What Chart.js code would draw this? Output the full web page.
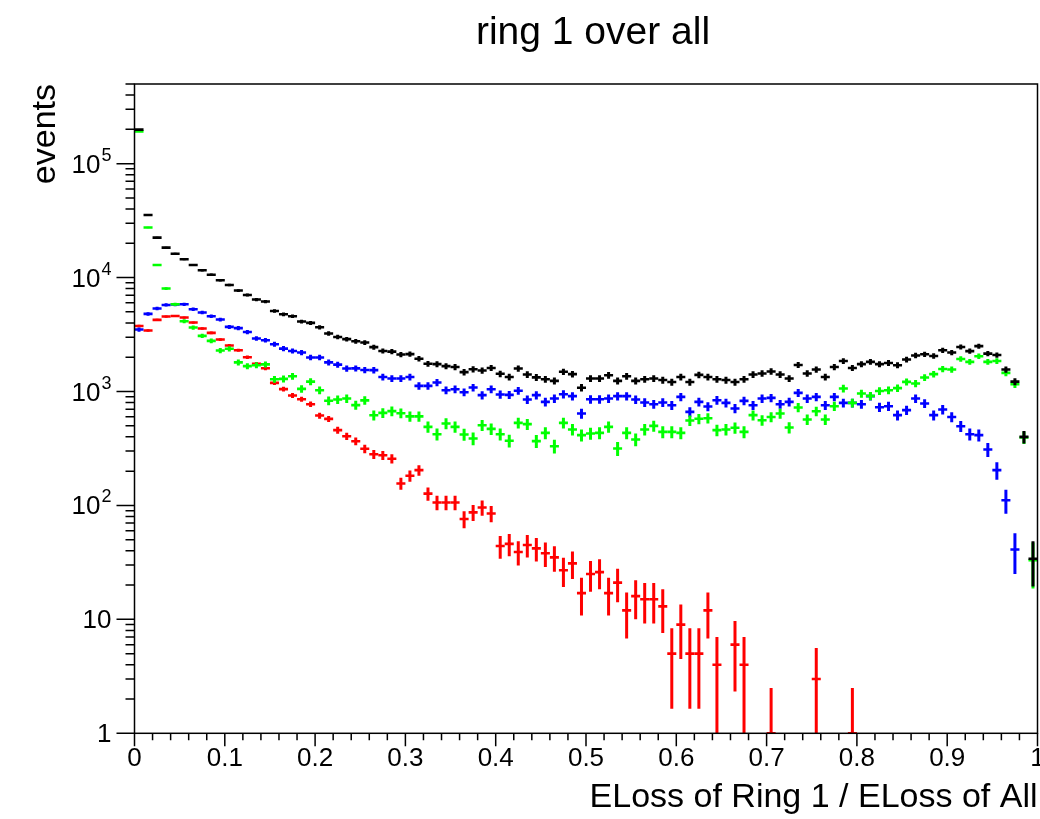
<!DOCTYPE html>
<html>
<head>
<meta charset="utf-8">
<script src="https://cdn.jsdelivr.net/npm/chart.js@4.4.1/dist/chart.umd.min.js"></script>
<style>
  html, body { margin: 0; padding: 0; background: #fff; }
  canvas { display: block; }
</style>
</head>
<body>
<canvas id="myChart" width="1040" height="819"></canvas>
<script>
// 100 bins of width 0.01 on [0,1]
const binWidth = 0.01;

// bin contents (0 = empty bin)
const allRings = [199000, 35400, 22400, 18300, 16200, 14500, 12900, 11600, 10600, 9470,
  8610, 7690, 7040, 6410, 6160, 5090, 4760, 4580, 4110, 4000,
  3660, 3230, 3010, 2880, 2760, 2690, 2450, 2270, 2240, 2110,
  2130, 1940, 1750, 1740, 1670, 1640, 1480, 1570, 1530, 1610,
  1430, 1340, 1590, 1410, 1330, 1280, 1240, 1490, 1420, 1080,
  1300, 1300, 1390, 1240, 1360, 1240, 1280, 1300, 1260, 1210,
  1340, 1210, 1400, 1340, 1280, 1260, 1210, 1280, 1410, 1440,
  1500, 1410, 1300, 1710, 1440, 1560, 1340, 1640, 1850, 1610,
  1740, 1820, 1740, 1780, 1700, 1910, 2070, 2120, 2050, 2300,
  2200, 2460, 2260, 2500, 2150, 2090, 1560, 1220, 400, 34];

const greenVals = [192000, 27500, 12900, 8010, 5830, 4140, 3640, 3080, 2780, 2290,
  2370, 1800, 1670, 1700, 1730, 1280, 1290, 1360, 1055, 1220,
  1026, 830, 851, 868, 760, 836, 618, 649, 672, 645,
  605, 605, 489, 422, 524, 489, 420, 387, 506, 470,
  422, 370, 530, 517, 367, 433, 331, 530, 464, 414,
  428, 433, 489, 316, 433, 379, 464, 499, 442, 442,
  433, 556, 576, 583, 458, 464, 480, 442, 620, 560,
  598, 641, 483, 724, 568, 671, 568, 743, 1062, 794,
  960, 915, 1010, 1026, 1070, 1215, 1175, 1327, 1420, 1578,
  1560, 1930, 1820, 2040, 1820, 1850, 1457, 1160, 395, 33];

const blueVals = [3500, 4800, 5350, 5750, 5800, 5830, 5270, 4930, 4580, 4280,
  3690, 3600, 3330, 2920, 2820, 2600, 2380, 2270, 2200, 1990,
  1990, 1800, 1720, 1590, 1595, 1545, 1540, 1340, 1300, 1300,
  1340, 1120, 1120, 1200, 1026, 1047, 986, 1084, 929, 1047,
  942, 935, 1015, 851, 929, 811, 868, 947, 910, 641,
  855, 855, 868, 910, 910, 851, 801, 774, 801, 758,
  897, 662, 811, 738, 839, 794, 710, 828, 758, 868,
  879, 774, 811, 972, 868, 897, 758, 897, 794, 794,
  774, 910, 728, 743, 620, 686, 868, 785, 620, 695,
  598, 496, 422, 414, 310, 204, 111, 41, 0, 0];

const redVals = [3760, 3430, 4250, 4550, 4600, 4460, 4030, 3570, 3270, 2860,
  2530, 2300, 2000, 1750, 1600, 1190, 1050, 923, 855, 774,
  615, 575, 458, 405, 366, 314, 281, 276, 257, 156,
  182, 204, 127, 106, 106, 106, 76, 87, 96, 85,
  44, 46, 39, 45, 42, 38, 35, 27, 31, 17,
  25, 26, 17, 21, 12, 16, 15, 15, 13, 5,
  9, 5, 5, 12, 4, 0, 6, 4, 0, 0,
  1, 0, 0, 0, 0, 3, 0, 0, 0, 1,
  0, 0, 0, 0, 0, 0, 0, 0, 0, 0,
  0, 0, 0, 0, 0, 0, 0, 0, 0, 0];

// weighted histos: error ~ k*sqrt(N), k
const errScale = { black: 2.5, green: 2.5, blue: 2.5, red: 1.5 };

const xTicks = [0, 0.1, 0.2, 0.3, 0.4, 0.5, 0.6, 0.7, 0.8, 0.9, 1];
const xTickLabels = ['0', '0.1', '0.2', '0.3', '0.4', '0.5', '0.6', '0.7', '0.8', '0.9', '1'];
const yTicks = [1, 10, 100, 1000, 10000, 100000];
const yTickLabels = [['1', ''], ['10', ''], ['10', '2'], ['10', '3'], ['10', '4'], ['10', '5']];

const FONT = '"Liberation Sans", Arial, Helvetica, sans-serif';

function toPoints(vals, k) {
  const pts = [];
  vals.forEach((v, i) => {
    if (v > 0) pts.push({ x: (i + 0.5) * binWidth, y: v, err: k * Math.sqrt(v) });
  });
  return pts;
}

// draw order: black ends up on top
const data = {
  datasets: [
    { label: 'red', data: toPoints(redVals, errScale.red), borderColor: '#ff0000' },
    { label: 'blue', data: toPoints(blueVals, errScale.blue), borderColor: '#0000ff' },
    { label: 'green', data: toPoints(greenVals, errScale.green), borderColor: '#00ff00' },
    { label: 'all', data: toPoints(allRings, errScale.black), borderColor: '#000000' }
  ]
};

// ROOT-like "E" markers: horizontal bin-width bar + vertical error bar
const histMarks = {
  id: 'histMarks',
  afterDatasetsDraw(chart) {
    const { ctx, chartArea: a, scales: { x, y } } = chart;
    ctx.save();
    ctx.beginPath();
    ctx.rect(a.left, a.top, a.right - a.left, a.bottom - a.top);
    ctx.clip();
    chart.data.datasets.forEach(ds => {
      ctx.strokeStyle = ds.borderColor;
      ds.data.forEach(p => {
        const px = x.getPixelForValue(p.x);
        const py = y.getPixelForValue(p.y);
        const xl = x.getPixelForValue(p.x - binWidth / 2);
        const xr = x.getPixelForValue(p.x + binWidth / 2);
        const hi = y.getPixelForValue(p.y + p.err);
        const lo = y.getPixelForValue(Math.max(p.y - p.err, y.min));
        ctx.lineWidth = 2.6;
        ctx.beginPath();
        ctx.moveTo(xl, py); ctx.lineTo(xr, py);
        ctx.stroke();
        ctx.lineWidth = 3;
        ctx.beginPath();
        ctx.moveTo(px, hi); ctx.lineTo(px, lo);
        ctx.stroke();
      });
    });
    ctx.restore();
  }
};

// frame, ticks, labels and titles
const rootAxes = {
  id: 'rootAxes',
  afterDraw(chart) {
    const { ctx, chartArea: a, scales: { x, y } } = chart;
    ctx.save();
    ctx.strokeStyle = '#000';
    ctx.fillStyle = '#000';
    ctx.lineWidth = 1.5;
    ctx.strokeRect(a.left, a.top, a.right - a.left, a.bottom - a.top);

    // x ticks, major every 0.1, minor every 0.02
    ctx.beginPath();
    for (let i = 0; i <= 50; i++) {
      const px = x.getPixelForValue(i * 0.02);
      const len = i % 5 === 0 ? 13 : 7;
      ctx.moveTo(px, a.bottom); ctx.lineTo(px, a.bottom + len);
    }
    // y ticks, log: decades + 2..9
    for (let d = 0; d <= 5; d++) {
      for (let m = 1; m <= 9; m++) {
        const v = m * Math.pow(10, d);
        if (v > y.max) break;
        const py = y.getPixelForValue(v);
        const len = m === 1 ? 18 : 9;
        ctx.moveTo(a.left, py); ctx.lineTo(a.left - len, py);
      }
    }
    ctx.stroke();

    // x labels
    ctx.font = '26px ' + FONT;
    ctx.textAlign = 'center';
    ctx.textBaseline = 'alphabetic';
    xTicks.forEach((t, i) => {
      ctx.fillText(xTickLabels[i], x.getPixelForValue(t), a.bottom + 33);
    });

    // y labels with exponent
    yTicks.forEach((t, i) => {
      const py = y.getPixelForValue(t);
      const [base, exp] = yTickLabels[i];
      let right = a.left - 23;
      ctx.textAlign = 'right';
      if (exp) {
        ctx.font = '18px ' + FONT;
        ctx.fillText(exp, right, py - 3);
        right -= ctx.measureText(exp).width + 1;
      }
      ctx.font = '26px ' + FONT;
      ctx.fillText(base, right, py + 9);
    });

    // titles
    ctx.font = '39px ' + FONT;
    ctx.textAlign = 'center';
    ctx.fillText('ring 1 over all', 593, 44);

    ctx.font = '34px ' + FONT;
    ctx.textAlign = 'right';
    ctx.fillText('ELoss of Ring 1 / ELoss of All', a.right, 807);

    ctx.translate(55, a.top);
    ctx.rotate(-Math.PI / 2);
    ctx.fillText('events', 0, 0);
    ctx.restore();
  }
};

const config = {
  type: 'scatter',
  data,
  options: {
    responsive: false,
    animation: false,
    devicePixelRatio: 1,
    layout: { padding: { left: 134.5, right: 2.5, top: 84, bottom: 85.7 } },
    elements: { point: { radius: 0, hoverRadius: 0 } },
    scales: {
      x: { type: 'linear', min: 0, max: 1, display: false },
      y: { type: 'logarithmic', min: 1, max: 5e5, display: false }
    },
    plugins: {
      legend: { display: false },
      tooltip: { enabled: false }
    }
  },
  plugins: [histMarks, rootAxes]
};

const myChart = new Chart(document.getElementById('myChart'), config);
</script>
</body>
</html>
